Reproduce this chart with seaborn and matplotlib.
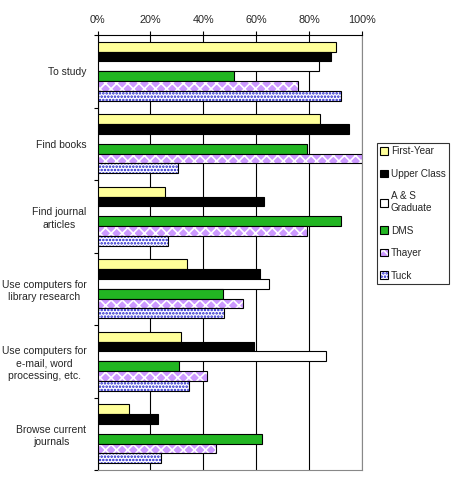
import numpy as np
import pandas as pd
import matplotlib
matplotlib.use("Agg")
import matplotlib.pyplot as plt
import matplotlib.colors as mcolors
from matplotlib.patches import Patch
import seaborn as sns

# Chart data (percent of respondents)
activities = ["To study", "Find books", "Find journal\narticles",
              "Use computers for\nlibrary research",
              "Use computers for\ne-mail, word\nprocessing, etc.",
              "Browse current\njournals"]
groups = ["First-Year", "Upper Class", "A & S\nGraduate", "DMS", "Thayer", "Tuck"]

first_year = [90.2, 84.2, 25.7, 34.0, 31.6, 12.0]
upper_class = [88.4, 95.1, 62.8, 61.3, 59.1, 22.8]
as_graduate = [83.9, np.nan, np.nan, 65.0, 86.5, np.nan]
dms = [51.7, 79.3, 92.2, 47.6, 30.9, 62.3]
thayer = [75.9, 100.0, 79.3, 55.1, 41.5, 44.9]
tuck = [92.2, 30.6, 26.8, 47.9, 34.7, 24.1]

x_ticks = [0, 20, 40, 60, 80, 100]
x_tick_labels = ["0%", "20%", "40%", "60%", "80%", "100%"]

series = [first_year, upper_class, as_graduate, dms, thayer, tuck]
rows = []
for g, vals in zip(groups, series):
    for a, v in zip(activities, vals):
        rows.append({"activity": a, "group": g, "pct": v})
df = pd.DataFrame(rows)

# Fill / hatch styles per group
faces = ["#ffff99", "#000000", "#ffffff", "#22b522", "#cc99ff", "#ffffff"]
hatches = [None, None, None, None, "xxx", "....."]
hatch_cols = [None, None, None, None, "#ffffff", "#1a1acc"]

sns.set_style("white")
plt.rcParams["font.family"] = ["Liberation Sans", "DejaVu Sans"]
plt.rcParams["hatch.linewidth"] = 1.2

fig = plt.figure(figsize=(4.54, 4.83), dpi=100)
ax = fig.add_axes([0.2148, 0.0269, 0.5826, 0.9006])

sns.barplot(data=df, y="activity", x="pct", hue="group", orient="h",
            order=activities, hue_order=groups, palette=faces,
            width=0.81, errorbar=None, edgecolor="black", linewidth=0.8,
            saturation=1, legend=False, ax=ax, zorder=3)

for i, cont in enumerate(ax.containers):
    for p in cont.patches:
        p.set_facecolor(faces[i])
        if hatches[i]:
            p.set_hatch(hatches[i])
            p._hatch_color = mcolors.to_rgba(hatch_cols[i])

ax.set_xlim(0, 100)
ax.set_ylim(5.5, -0.5)
ax.set_xlabel("")
ax.set_ylabel("")

ax.xaxis.tick_top()
ax.set_xticks(x_ticks)
ax.set_xticklabels(x_tick_labels, fontsize=7.8)
ax.tick_params(axis="x", top=True, bottom=False, direction="out",
               length=3, width=0.8, color="black", pad=4)
ax.grid(axis="x", color="black", linewidth=0.8, zorder=0)
ax.grid(axis="y", visible=False)

ax.set_yticks(range(len(activities)))
ax.set_yticklabels(activities, fontsize=7.5)
for lab in ax.get_yticklabels():
    lab.set_multialignment("center")
    lab.set_linespacing(1.3)
ax.set_yticks(np.arange(-0.5, 6, 1.0), minor=True)
ax.tick_params(axis="y", which="major", left=False, length=0, pad=8)
ax.tick_params(axis="y", which="minor", left=True, direction="out",
               length=3, width=0.8, color="black")

for side in ["left", "top"]:
    ax.spines[side].set_color("black")
    ax.spines[side].set_linewidth(0.8)
for side in ["right", "bottom"]:
    ax.spines[side].set_color("#888888")
    ax.spines[side].set_linewidth(0.8)
ax.set_axisbelow(True)

handles = []
for i, g in enumerate(groups):
    h = Patch(facecolor=faces[i], edgecolor="black", linewidth=0.8,
              hatch=hatches[i])
    if hatches[i]:
        h._hatch_color = mcolors.to_rgba(hatch_cols[i])
    handles.append(h)
leg = fig.legend(handles, groups, loc="upper left",
                 bbox_to_anchor=(0.830, 0.704), fontsize=7.2, frameon=True,
                 fancybox=False, shadow=False, handlelength=0.8,
                 handleheight=0.8, handletextpad=0.25, labelspacing=1.25,
                 borderpad=0.35, borderaxespad=0)
leg.get_frame().set_edgecolor("black")
leg.get_frame().set_linewidth(0.8)

fig.savefig("out.png", dpi=100)
